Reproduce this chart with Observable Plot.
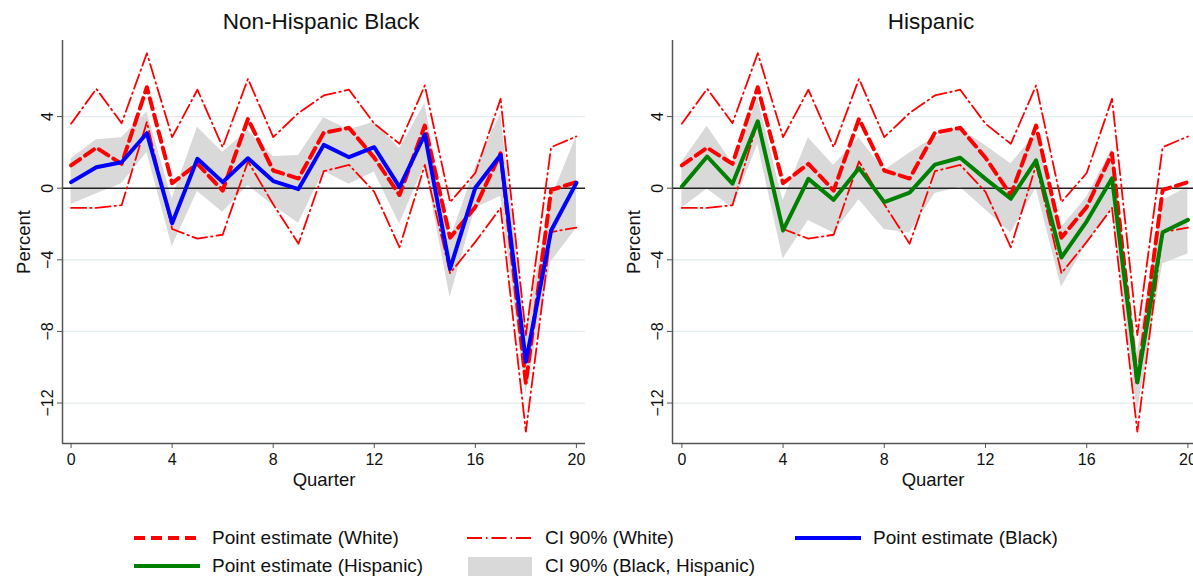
<!DOCTYPE html>
<html>
<head>
<meta charset="utf-8">
<script src="https://cdn.jsdelivr.net/npm/d3@7"></script>
<script src="https://cdn.jsdelivr.net/npm/@observablehq/plot@0.6"></script>
<style>
  html, body { margin: 0; padding: 0; background: #fff; }
  body { font-family: "Liberation Sans", Arial, sans-serif; }
  #wrap { position: relative; width: 1193px; height: 576px; overflow: hidden; }
  .panel { position: absolute; top: 0; }
  .title { position: absolute; top: 9px; font-size: 22.5px; color: #111; transform: translateX(-50%); white-space: nowrap; }
  .leg { position: absolute; font-size: 19px; color: #111; white-space: nowrap; transform: translateY(-50%); }
  .sw { position: absolute; }
</style>
</head>
<body>
<div id="wrap">
  <div class="panel" id="left" style="left:0"></div>
  <div class="panel" id="right" style="left:610px"></div>
  <div class="title" style="left:321px">Non-Hispanic Black</div>
  <div class="title" style="left:931px">Hispanic</div>
  <div id="legend"></div>
</div>
<script>
// ---- Data ----
const quarters = [0,1,2,3,4,5,6,7,8,9,10,11,12,13,14,15,16,17,18,19,20];

const whitePE = [1.27,2.26,1.36,5.64,0.28,1.36,-0.13,3.87,0.99,0.54,3.1,3.37,1.7,-0.38,3.5,-2.76,-1.05,1.95,-10.9,-0.1,0.34];
const whiteHi = [3.6,5.55,3.63,7.54,2.85,5.5,2.29,6.11,2.85,4.2,5.18,5.5,3.6,2.48,5.74,-0.78,0.85,4.99,-8.2,2.29,2.89];
const whiteLo = [-1.1,-1.1,-0.95,3.7,-2.28,-2.82,-2.6,1.5,-0.9,-3.1,0.95,1.3,-0.2,-3.3,1.3,-4.75,-3.0,-1.1,-13.6,-2.45,-2.2];

const blackPE = [0.34,1.17,1.45,3.07,-1.96,1.64,0.34,1.67,0.4,-0.05,2.42,1.73,2.29,0.06,3.0,-4.5,0.03,1.85,-9.7,-2.36,0.3];
const blackHi = [1.64,2.7,2.82,4.25,-0.59,3.41,2.01,3.22,1.77,1.83,3.93,3.26,3.69,2.2,4.72,-2.9,1.15,4.16,-7.9,-0.6,2.9];
const blackLo = [-0.91,-0.31,0.25,2.0,-3.25,-0.18,-1.34,0.15,-0.97,-1.96,0.95,0.22,0.9,-2.0,1.3,-6.1,-1.1,-0.45,-11.5,-4.1,-2.25];

const hispPE = [0.09,1.77,0.25,3.74,-2.36,0.52,-0.65,1.12,-0.78,-0.25,1.32,1.7,0.52,-0.59,1.55,-3.87,-1.85,0.55,-10.84,-2.46,-1.77];
const hispHi = [1.45,3.46,1.4,4.99,-0.69,2.82,1.27,2.82,0.99,1.96,2.85,3.32,2.38,1.36,3.04,-2.2,-0.5,2.2,-9.2,-0.69,0.05];
const hispLo = [-1.1,-0.05,-1.1,2.44,-3.95,-1.8,-2.5,-0.65,-2.3,-2.5,-0.3,0.06,-1.2,-2.5,0.0,-5.53,-3.1,-1.15,-12.5,-4.23,-3.67];

const xTicks = [0,4,8,12,16,20];
const yTicks = [4,0,-4,-8,-12];
const yGrid = [4,-4,-8,-12];
const yDomain = [-14.26, 8.25];

const panels = [
  {el: "left",  width: 610, mr: 25, xDomain: [-0.34, 20.36], pe: blackPE, lo: blackLo, hi: blackHi, color: "#0000ff"},
  {el: "right", width: 583, mr: 0,  xDomain: [-0.37, 20.22], pe: hispPE,  lo: hispLo,  hi: hispHi,  color: "#008000"}
];

for (const p of panels) {
  const rows = quarters.map((q, i) => ({
    q, wpe: whitePE[i], wlo: whiteLo[i], whi: whiteHi[i],
    pe: p.pe[i], lo: p.lo[i], hi: p.hi[i]
  }));
  const chart = Plot.plot({
    width: p.width,
    height: 500,
    marginLeft: 62,
    marginRight: p.mr,
    marginTop: 40,
    marginBottom: 57,
    style: {fontFamily: "'Liberation Sans', Arial, sans-serif", fontSize: "16px", color: "#111", background: "transparent"},
    x: {domain: p.xDomain},
    y: {domain: yDomain},
    marks: [
      Plot.gridY(yGrid, {stroke: "#e3ebee", strokeOpacity: 1, strokeWidth: 1.3}),
      Plot.areaY(rows, {x: "q", y1: "lo", y2: "hi", fill: "#d9d9d9", curve: "linear"}),
      Plot.ruleY([0], {stroke: "#222", strokeWidth: 1.5}),
      Plot.lineY(rows, {x: "q", y: "whi", stroke: "#ff0000", strokeWidth: 1.8, strokeDasharray: "15,4,1.5,4"}),
      Plot.lineY(rows, {x: "q", y: "wlo", stroke: "#ff0000", strokeWidth: 1.8, strokeDasharray: "15,4,1.5,4"}),
      Plot.lineY(rows, {x: "q", y: "wpe", stroke: "#ff0000", strokeWidth: 4, strokeDasharray: "11,6"}),
      Plot.lineY(rows, {x: "q", y: "pe", stroke: p.color, strokeWidth: 4}),
      Plot.ruleX([p.xDomain[0]], {stroke: "#555", strokeWidth: 1.5}),
      Plot.ruleY([yDomain[0]], {stroke: "#555", strokeWidth: 1.5}),
      Plot.axisX(xTicks, {tickSize: 5, tickPadding: 5, fontSize: 16, stroke: "#555", label: "Quarter", labelAnchor: "center", labelOffset: 42, labelArrow: "none"}),
      Plot.axisY(yTicks, {tickSize: 5, tickPadding: 5, fontSize: 16, tickRotate: -90, stroke: "#555", label: "Percent", labelAnchor: "center", labelOffset: 46, labelArrow: "none"})
    ]
  });
  d3.select(chart).selectAll('g[aria-label="x-axis label"] text, g[aria-label="y-axis label"] text')
    .style("font-size", "18.5px");
  document.getElementById(p.el).appendChild(chart);
}

// ---- Legend ----
const legendItems = [
  {label: "Point estimate (White)", kind: "line", color: "#ff0000", width: 4, dash: "11,6", x: 134, y: 538},
  {label: "CI 90% (White)", kind: "line", color: "#ff0000", width: 2, dash: "15,4,1.5,4", x: 467, y: 538},
  {label: "Point estimate (Black)", kind: "line", color: "#0000ff", width: 4, dash: null, x: 795, y: 538},
  {label: "Point estimate (Hispanic)", kind: "line", color: "#008000", width: 4, dash: null, x: 134, y: 566},
  {label: "CI 90% (Black, Hispanic)", kind: "rect", color: "#d9d9d9", x: 467, y: 566}
];
const lg = document.getElementById("legend");
for (const it of legendItems) {
  const sw = document.createElementNS("http://www.w3.org/2000/svg", "svg");
  sw.setAttribute("width", 66); sw.setAttribute("height", 22);
  sw.setAttribute("class", "sw");
  sw.style.left = it.x + "px"; sw.style.top = (it.y - 11) + "px";
  if (it.kind === "line") {
    const l = document.createElementNS("http://www.w3.org/2000/svg", "line");
    l.setAttribute("x1", 0); l.setAttribute("x2", 66); l.setAttribute("y1", 11); l.setAttribute("y2", 11);
    l.setAttribute("stroke", it.color); l.setAttribute("stroke-width", it.width);
    if (it.dash) l.setAttribute("stroke-dasharray", it.dash);
    sw.appendChild(l);
  } else {
    const r = document.createElementNS("http://www.w3.org/2000/svg", "rect");
    r.setAttribute("x", 1); r.setAttribute("y", 2); r.setAttribute("width", 64); r.setAttribute("height", 20);
    r.setAttribute("fill", it.color);
    sw.appendChild(r);
  }
  lg.appendChild(sw);
  const t = document.createElement("div");
  t.className = "leg"; t.textContent = it.label;
  t.style.left = (it.x + 78) + "px"; t.style.top = it.y + "px";
  lg.appendChild(t);
}
</script>
</body>
</html>
